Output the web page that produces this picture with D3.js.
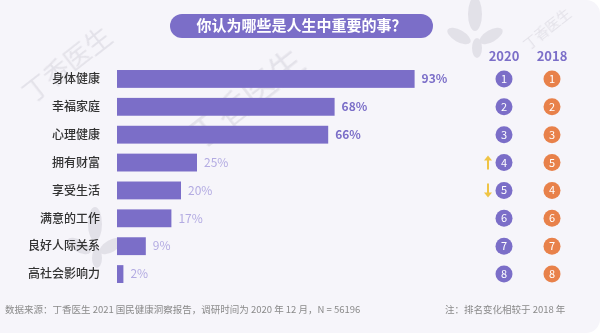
<!DOCTYPE html>
<html><head><meta charset="utf-8">
<script src="https://cdn.jsdelivr.net/npm/d3@7"></script>
<style>
html,body{margin:0;padding:0;background:#fff;}
svg{display:block;font-family:"Noto Sans CJK SC","Noto Sans",sans-serif;}
</style></head>
<body>
<svg id="c" width="600" height="333"></svg>
<script>
const title = "你认为哪些是人生中重要的事？";
const categories = ["身体健康","幸福家庭","心理健康","拥有财富","享受生活","满意的工作","良好人际关系","高社会影响力"];
const values = [93,68,66,25,20,17,9,2];
const rank2020 = [1,2,3,4,5,6,7,8];
const rank2018 = [1,2,3,5,4,6,7,8];
const yearLabels = ["2020","2018"];
const source = "数据来源：丁香医生 2021 国民健康洞察报告，调研时间为 2020 年 12 月，N = 56196";
const note = "注：排名变化相较于 2018 年";

const purple = "#7b6ec8", lightPurple = "#b3abe2", orange = "#e8814a", yellow = "#efc445";
const svg = d3.select("#c");

// background panel
svg.append("rect").attr("x",0).attr("y",0).attr("width",600).attr("height",333).attr("rx",14).attr("fill","#f6f5fa");
svg.append("rect").attr("x",0).attr("y",0).attr("width",560).attr("height",333).attr("fill","#f6f5fa");

// watermarks
const wm = svg.append("g").attr("fill","#dcdae2").attr("opacity",0.7);
[[32,104,26],[200,150,34],[528,50,14]].forEach(([x,y,s])=>{
  wm.append("text").attr("font-size",s).attr("transform",`translate(${x},${y}) rotate(-38)`).text("丁香医生");
});
const leaf = svg.append("g").attr("fill","#dedce4").attr("opacity",0.8);
[[95,240],[475,30]].forEach(([x,y])=>{
  const g = leaf.append("g").attr("transform",`translate(${x},${y})`);
  g.append("ellipse").attr("cx",0).attr("cy",-16).attr("rx",7).attr("ry",17);
  g.append("ellipse").attr("cx",-16).attr("cy",6).attr("rx",13).attr("ry",6).attr("transform","rotate(30,-16,6)");
  g.append("ellipse").attr("cx",16).attr("cy",6).attr("rx",13).attr("ry",6).attr("transform","rotate(-30,16,6)");
  g.append("ellipse").attr("cx",2).attr("cy",18).attr("rx",5).attr("ry",10);
});

// title pill
svg.append("rect").attr("x",170).attr("y",14).attr("width",263).attr("height",24).attr("rx",12).attr("fill",purple);
svg.append("text").attr("x",301.5).attr("y",26).attr("dy","0.36em").attr("text-anchor","middle")
  .attr("fill","#fff").attr("font-size",15).attr("font-weight",700).text(title);

// scales
const y = d3.scaleBand().domain(categories).range([65,288]).paddingInner(0.36).paddingOuter(0.18);
const x = d3.scaleLinear().domain([0,100]).range([117,437]);

// category labels
svg.append("g").selectAll("text").data(categories).join("text")
  .attr("x",100).attr("y",d=>y(d)+y.bandwidth()/2).attr("dy","0.35em")
  .attr("text-anchor","end").attr("font-size",12).attr("font-weight",500).attr("fill","#333")
  .text(d=>d);

// bars
svg.append("g").selectAll("rect").data(values).join("rect")
  .attr("x",x(0)).attr("y",(d,i)=>y(categories[i]))
  .attr("width",d=>x(d)-x(0)).attr("height",y.bandwidth()).attr("fill",purple);

// value labels
svg.append("g").selectAll("text").data(values).join("text")
  .attr("x",d=>x(d)+7).attr("y",(d,i)=>y(categories[i])+y.bandwidth()/2).attr("dy","0.35em")
  .attr("font-size",12).attr("font-weight",(d,i)=>i<3?700:400)
  .attr("fill",(d,i)=>i<3?purple:lightPurple).text(d=>d+"%");

// rank columns
const colX = d3.scalePoint().domain(yearLabels).range([504,552]);
svg.append("g").selectAll("text").data(yearLabels).join("text")
  .attr("x",d=>colX(d)).attr("y",56).attr("dy","0.35em").attr("text-anchor","middle")
  .attr("font-size",13).attr("font-weight",700).attr("fill",purple).text(d=>d);

[[rank2020,"2020",purple],[rank2018,"2018",orange]].forEach(([ranks,yr,col])=>{
  const g = svg.append("g");
  g.selectAll("circle").data(ranks).join("circle")
    .attr("cx",colX(yr)).attr("cy",(d,i)=>y(categories[i])+y.bandwidth()/2).attr("r",8.5).attr("fill",col);
  g.selectAll("text").data(ranks).join("text")
    .attr("x",colX(yr)).attr("y",(d,i)=>y(categories[i])+y.bandwidth()/2).attr("dy","0.36em")
    .attr("text-anchor","middle").attr("font-size",11).attr("fill","#fff").text(d=>d);
});

// change arrows
const arrows = svg.append("g").attr("stroke",yellow).attr("fill",yellow);
rank2020.forEach((r,i)=>{
  const diff = rank2018[i]-r;
  if(diff===0) return;
  const cy = y(categories[i])+y.bandwidth()/2, ax = 488;
  const up = diff>0;
  const top = cy-7, bot = cy+7;
  arrows.append("line").attr("x1",ax).attr("x2",ax).attr("y1",up?top+4:top).attr("y2",up?bot:bot-4).attr("stroke-width",2);
  const tip = up?top:bot, base = up?top+5:bot-5;
  arrows.append("path").attr("stroke","none").attr("d",`M${ax-4},${base}L${ax+4},${base}L${ax},${tip}Z`);
});

// footer
svg.append("text").attr("x",5).attr("y",310).attr("dy","0.35em").attr("font-size",9.5).attr("fill","#8a8a8a").text(source);
svg.append("text").attr("x",445).attr("y",310).attr("dy","0.35em").attr("font-size",9.5).attr("fill","#8a8a8a").text(note);
</script>
</body></html>
